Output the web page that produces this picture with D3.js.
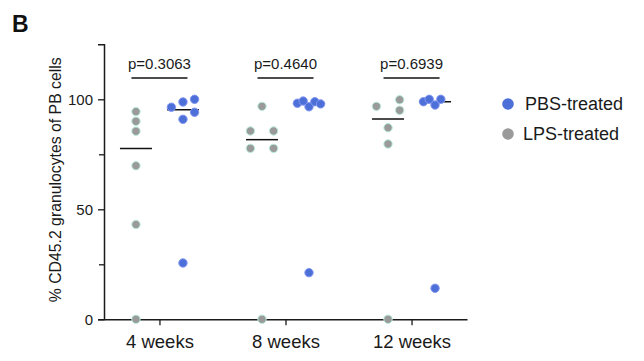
<!DOCTYPE html>
<html>
<head>
<meta charset="utf-8">
<script src="https://cdn.jsdelivr.net/npm/d3@7"></script>
<style>
  html, body { margin: 0; padding: 0; background: #fff; }
  svg { display: block; font-family: "Liberation Sans", Arial, Helvetica, sans-serif; }
</style>
</head>
<body>
<svg id="chart" width="644" height="361"></svg>
<script>
// ---- data ----
const timepoints = ["4 weeks", "8 weeks", "12 weeks"];
const seriesNames = ["PBS-treated", "LPS-treated"];
const lpsValues = [
  [94.4, 90.0, 85.5, 69.8, 43.1, 0],
  [96.8, 85.6, 85.6, 77.7, 77.7, 0],
  [96.8, 99.8, 95.0, 87.1, 79.7, 0]
];
const pbsValues = [
  [96.4, 98.8, 100, 94.1, 90.9, 25.6],
  [98.2, 99.2, 96.6, 98.9, 97.9, 21.2],
  [98.9, 100, 97.4, 100, 14.1]
];
const pValues = ["p=0.3063", "p=0.4640", "p=0.6939"];
const yTickValues = [0, 50, 100];
const yMinorTicks = [25, 75];

// scatter-dot column layout (slot index within a group), not data
const lpsJitter = [
  [0, 0, 0, 0, 0, 0],
  [0, -1, 1, -1, 1, 0],
  [-1, 1, 1, 0, 0, 0]
];
const pbsJitter = [
  [-1, 0, 1, 1, 0, 0],
  [-1, -0.5, 0, 0.5, 1, 0],
  [-1, -0.5, 0, 0.5, 0]
];

// ---- layout ----
const svg = d3.select("#chart");
const x = d3.scalePoint().domain(timepoints).range([104, 467]).padding(0.44);
const y = d3.scaleLinear().domain([0, 125]).range([319.3, 44.3]);
const groupOffset = 23.5;
const slot = 11.6;
const r = 4.2;
const colors = { pbs: "#4d6fd8", pbsStroke: "#8497f2", lps: "#9a9a9a", lpsStroke: "#b8eed9" };

// panel letter
svg.append("text").attr("x", 12).attr("y", 32)
  .attr("font-size", 23).attr("font-weight", "bold").attr("fill", "#111").text("B");

// y axis
const yAxis = svg.append("g").attr("transform", "translate(104,0)")
  .call(d3.axisLeft(y).tickValues(yTickValues).tickSize(6).tickPadding(5).tickFormat(d3.format("d")));
yAxis.select(".domain").attr("stroke", "#1a1a1a").attr("stroke-width", 1.5);
yAxis.selectAll(".tick line").attr("stroke", "#1a1a1a").attr("stroke-width", 1.3);
yAxis.selectAll(".tick text").attr("font-size", 15).attr("fill", "#1a1a1a")
  .attr("font-family", "Liberation Sans, Arial, sans-serif");
const yMinor = svg.append("g").attr("transform", "translate(104,0)")
  .call(d3.axisLeft(y).tickValues(yMinorTicks).tickSize(5).tickFormat(""));
yMinor.select(".domain").remove();
yMinor.selectAll(".tick line").attr("stroke", "#1a1a1a").attr("stroke-width", 1.3);

// x axis
const xAxis = svg.append("g").attr("transform", `translate(0,${y(0)})`)
  .call(d3.axisBottom(x).tickSize(6).tickSizeOuter(0).tickPadding(10));
xAxis.select(".domain").attr("stroke", "#1a1a1a").attr("stroke-width", 1.5);
xAxis.selectAll(".tick line").attr("stroke", "#1a1a1a").attr("stroke-width", 1.3);
xAxis.selectAll(".tick text").attr("font-size", 18.5).attr("fill", "#1a1a1a")
  .attr("font-family", "Liberation Sans, Arial, sans-serif");

// y axis title
svg.append("text")
  .attr("transform", `translate(61,${(y(0) + y(125)) / 2 - 2}) rotate(-90)`)
  .attr("text-anchor", "middle").attr("font-size", 15.8).attr("fill", "#1a1a1a")
  .text("% CD45.2 granulocytes of PB cells");

// groups
timepoints.forEach((tp, i) => {
  const groups = [
    { vals: lpsValues[i], jit: lpsJitter[i], cx: x(tp) - groupOffset, fill: colors.lps, stroke: colors.lpsStroke },
    { vals: pbsValues[i], jit: pbsJitter[i], cx: x(tp) + groupOffset, fill: colors.pbs, stroke: colors.pbsStroke }
  ];
  groups.forEach(g => {
    const med = d3.median(g.vals);
    svg.append("line")
      .attr("x1", g.cx - 16).attr("x2", g.cx + 16)
      .attr("y1", y(med)).attr("y2", y(med))
      .attr("stroke", "#111").attr("stroke-width", 1.5);
    svg.append("g").selectAll("circle").data(g.vals).join("circle")
      .attr("cx", (d, k) => g.cx + g.jit[k] * slot)
      .attr("cy", d => y(d))
      .attr("r", r)
      .attr("fill", g.fill)
      .attr("stroke", g.stroke)
      .attr("stroke-width", 1);
  });
  // significance bracket
  const bx = x(tp);
  svg.append("line")
    .attr("x1", bx - 28).attr("x2", bx + 28)
    .attr("y1", 78).attr("y2", 78)
    .attr("stroke", "#111").attr("stroke-width", 1.5);
  svg.append("text")
    .attr("x", bx).attr("y", 69)
    .attr("text-anchor", "middle").attr("font-size", 15).attr("fill", "#1a1a1a")
    .text(pValues[i]);
});

// legend
const legend = svg.append("g");
const legendColors = [colors.pbs, colors.lps];
seriesNames.forEach((name, i) => {
  const ly = 104 + i * 30;
  legend.append("circle").attr("cx", 508).attr("cy", ly).attr("r", 5.8).attr("fill", legendColors[i]);
  legend.append("text").attr("x", i === 0 ? 525 : 523).attr("y", ly)
    .attr("dy", "0.35em").attr("font-size", 18).attr("fill", "#1a1a1a").text(name);
});
</script>
</body>
</html>
